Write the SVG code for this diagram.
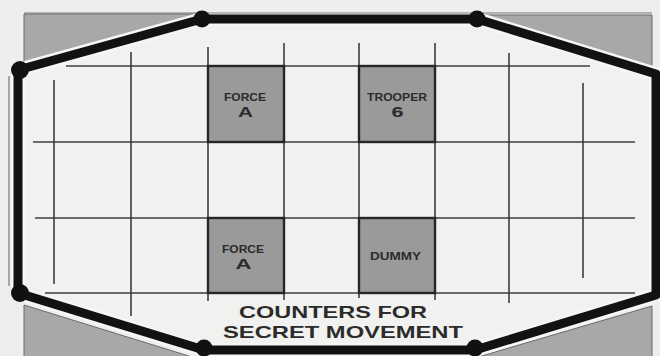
<svg xmlns="http://www.w3.org/2000/svg" width="660" height="356" viewBox="0 0 660 356">
<style>
.tri{fill:#a8a8a8;stroke:#6a6a6a;stroke-width:1}
.thin{stroke:#777;stroke-width:1.2;fill:none}
.grid line{stroke:#3e3e3e;stroke-width:1.6}
.sq{fill:#9a9a9a;stroke:#262626;stroke-width:2.4}
.lab{font-family:"Liberation Sans",Arial,sans-serif;font-weight:bold;fill:#2b2b2b;text-anchor:middle}
.dot{fill:#111}
</style>
<rect width="660" height="356" fill="#eeeeec"/>
<g id="corners">
<polygon class="tri" points="24,14 195,14 24,63"/>
<polygon class="tri" points="485,15 652,15 652,66"/>
<polygon class="tri" points="24,305 24,357 192,357"/>
<polygon class="tri" points="652,306 652,357 478,357"/>
</g>
<g id="board">
<path d="M18,70 L202,19 L477,19 L656,74 L656,295 L475,350 L204,350 L18,293 Z" fill="#f1f1ef" stroke="#f6f6f4" stroke-width="14" stroke-linejoin="round"/>
<line class="thin" x1="24" y1="13" x2="652" y2="13"/>
<line class="thin" x1="9" y1="76" x2="9" y2="286"/>
<path d="M18,70 L202,19 L477,19 L656,74 L656,295 L475,350 L204,350 L18,293 Z" fill="none" stroke="#121212" stroke-width="9" stroke-linejoin="round"/>
<circle class="dot" cx="20" cy="70" r="9"/>
<circle class="dot" cx="202" cy="19" r="8.5"/>
<circle class="dot" cx="477" cy="19" r="8.5"/>
<circle class="dot" cx="20" cy="293" r="9"/>
<circle class="dot" cx="204" cy="348" r="8.5"/>
<circle class="dot" cx="475" cy="348" r="8.5"/>
</g>
<g id="connectors" class="grid">
<line x1="66" y1="66" x2="590" y2="66"/>
<line x1="33" y1="142" x2="635" y2="142"/>
<line x1="35" y1="218" x2="635" y2="218"/>
<line x1="45" y1="293" x2="635" y2="293"/>
<line x1="54" y1="80" x2="54" y2="284"/>
<line x1="131" y1="52" x2="131" y2="316"/>
<line x1="208" y1="47" x2="208" y2="301"/>
<line x1="284" y1="43" x2="284" y2="300"/>
<line x1="359" y1="43" x2="359" y2="298"/>
<line x1="435" y1="43" x2="435" y2="300"/>
<line x1="509" y1="53" x2="509" y2="303"/>
<line x1="583" y1="83" x2="583" y2="278"/>
</g>
<g id="counter-force-a-1">
<rect class="sq" x="208" y="66" width="76" height="76"/>
<text class="lab" x="245" y="101" font-size="11" textLength="42" lengthAdjust="spacingAndGlyphs">FORCE</text>
<text class="lab" x="245.5" y="116.5" font-size="14" textLength="15" lengthAdjust="spacingAndGlyphs">A</text>
</g>
<g id="counter-trooper-6">
<rect class="sq" x="359" y="66" width="76" height="76"/>
<text class="lab" x="397" y="101" font-size="11" textLength="60" lengthAdjust="spacingAndGlyphs">TROOPER</text>
<text class="lab" x="397.5" y="116.5" font-size="14" textLength="12" lengthAdjust="spacingAndGlyphs">6</text>
</g>
<g id="counter-force-a-2">
<rect class="sq" x="208" y="218" width="76" height="75"/>
<text class="lab" x="243" y="253" font-size="11" textLength="42" lengthAdjust="spacingAndGlyphs">FORCE</text>
<text class="lab" x="243.5" y="269" font-size="14" textLength="16" lengthAdjust="spacingAndGlyphs">A</text>
</g>
<g id="counter-dummy">
<rect class="sq" x="359" y="218" width="76" height="75"/>
<text class="lab" x="395.5" y="260" font-size="11" textLength="51" lengthAdjust="spacingAndGlyphs">DUMMY</text>
</g>
<g id="title">
<text class="lab" x="333" y="318" font-size="16.5" textLength="188" lengthAdjust="spacingAndGlyphs">COUNTERS FOR</text>
<text class="lab" x="343" y="338" font-size="17" textLength="240" lengthAdjust="spacingAndGlyphs">SECRET MOVEMENT</text>
</g>
</svg>
